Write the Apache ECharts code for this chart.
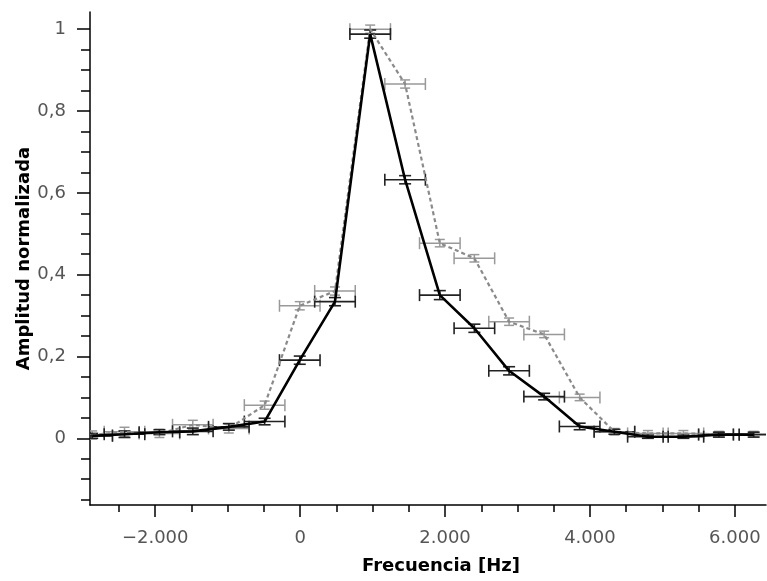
<!DOCTYPE html>
<html>
<head>
<meta charset="utf-8">
<script src="https://cdn.jsdelivr.net/npm/echarts@6/dist/echarts.min.js"></script>
<style>
html,body{margin:0;padding:0;background:#fff;}
#chart{width:767px;height:581px;}
</style>
</head>
<body>
<div id="chart"></div>
<script>
// ---- data ----
const freq = [-2870, -2424, -1942, -1481, -984, -490, -5, 481, 967, 1449, 1928, 2405, 2884, 3368, 3858, 4338, 4800, 5290, 5780, 6260];
const ampBlack = [0.006, 0.010, 0.015, 0.017, 0.028, 0.041, 0.191, 0.334, 0.988, 0.632, 0.350, 0.269, 0.165, 0.102, 0.029, 0.016, 0.004, 0.004, 0.009, 0.009];
const ampGray  = [0.008, 0.016, 0.012, 0.033, 0.024, 0.081, 0.324, 0.360, 1.000, 0.866, 0.477, 0.440, 0.285, 0.254, 0.100, 0.016, 0.012, 0.012, 0.010, 0.010];
const freqErr  = [280, 280, 280, 280, 280, 280, 280, 280, 280, 280, 280, 280, 280, 280, 280, 280, 280, 280, 280, 280];
const errBlack = [0.006, 0.008, 0.006, 0.008, 0.008, 0.008, 0.010, 0.010, 0.010, 0.010, 0.011, 0.010, 0.010, 0.008, 0.008, 0.006, 0.004, 0.004, 0.006, 0.006];
const errGray  = [0.010, 0.011, 0.010, 0.011, 0.011, 0.010, 0.010, 0.010, 0.010, 0.010, 0.009, 0.009, 0.009, 0.008, 0.008, 0.008, 0.007, 0.007, 0.007, 0.007];

const xMajorTicks = [-2000, 0, 2000, 4000, 6000];
const xMinorTicks = [-2500, -1500, -1000, -500, 500, 1000, 1500, 2500, 3000, 3500, 4500, 5000, 5500];
const yMajorTicks = [0, 0.2, 0.4, 0.6, 0.8, 1];
const yMinorTicks = [-0.15, -0.1, -0.05, 0.05, 0.1, 0.15, 0.25, 0.3, 0.35, 0.45, 0.5, 0.55, 0.65, 0.7, 0.75, 0.85, 0.9, 0.95];

const xMin = -2900, xMax = 6430, yMin = -0.163, yMax = 1.042;

// ---- helpers ----
function fmtX(v) {
  if (Math.abs(v) < 1e-9) return '0';
  const s = Math.abs(Math.round(v)).toString().replace(/\B(?=(\d{3})+(?!\d))/g, '.');
  return (v < 0 ? '\u2212' : '') + s;
}
function fmtY(v) {
  if (Math.abs(v) < 1e-9) return '0';
  if (Math.abs(v - 1) < 1e-9) return '1';
  return v.toFixed(1).replace('.', ',');
}
function pts(xs, ys) { return xs.map((x, i) => [x, ys[i]]); }
function errPts(xs, ys, ex, ey) { return xs.map((x, i) => [x, ys[i], ex[i], ey[i]]); }

function errRender(color, capH, capV, lw) {
  return function (params, api) {
    const x = api.value(0), y = api.value(1), ex = api.value(2), ey = api.value(3);
    const pL = api.coord([x - ex, y]), pR = api.coord([x + ex, y]);
    const pT = api.coord([x, y + ey]), pB = api.coord([x, y - ey]);
    const st = { stroke: color, lineWidth: lw, fill: null };
    const L = (x1, y1, x2, y2) => ({ type: 'line', shape: { x1, y1, x2, y2 }, style: st });
    return {
      type: 'group',
      children: [
        L(pL[0], pL[1], pR[0], pR[1]),
        L(pL[0], pL[1] - capH, pL[0], pL[1] + capH),
        L(pR[0], pR[1] - capH, pR[0], pR[1] + capH),
        L(pT[0], pT[1], pB[0], pB[1]),
        L(pT[0] - capV, pT[1], pT[0] + capV, pT[1]),
        L(pB[0] - capV, pB[1], pB[0] + capV, pB[1])
      ]
    };
  };
}

const labelFont = { fontFamily: 'DejaVu Sans', fontSize: 18, color: '#555' };
const nameFont = { fontFamily: 'DejaVu Sans', fontWeight: 'bold', fontSize: 18, color: '#000' };
const axisLine = { show: true, onZero: false, lineStyle: { color: '#000', width: 1.5 } };

const chart = echarts.init(document.getElementById('chart'), null, { renderer: 'canvas' });
chart.setOption({
  animation: false,
  backgroundColor: '#fff',
  grid: { left: 90, right: 1, top: 12, bottom: 76, containLabel: false, outerBoundsMode: 'none' },
  xAxis: [
    {
      type: 'value', min: xMin, max: xMax, position: 'bottom',
      name: 'Frecuencia [Hz]', nameLocation: 'middle', nameGap: 52, nameMoveOverlap: false,
      nameTextStyle: Object.assign({ padding: [0, 0, 0, 26] }, nameFont),
      axisLine: axisLine,
      axisTick: { show: true, length: 12, lineStyle: { color: '#000', width: 1.5 }, customValues: xMajorTicks },
      axisLabel: Object.assign({ margin: 24, customValues: xMajorTicks, formatter: fmtX }, labelFont),
      splitLine: { show: false }
    },
    {
      type: 'value', min: xMin, max: xMax, position: 'bottom',
      axisLine: { show: false, onZero: false },
      axisTick: { show: true, length: 7, lineStyle: { color: '#000', width: 1.5 }, customValues: xMinorTicks },
      axisLabel: { show: false },
      splitLine: { show: false }
    }
  ],
  yAxis: [
    {
      type: 'value', min: yMin, max: yMax, position: 'left',
      name: 'Amplitud normalizada', nameLocation: 'middle', nameGap: 57, nameMoveOverlap: false,
      nameTextStyle: nameFont,
      axisLine: axisLine,
      axisTick: { show: true, length: 13, lineStyle: { color: '#000', width: 1.5 }, customValues: yMajorTicks },
      axisLabel: Object.assign({ margin: 24, customValues: yMajorTicks, formatter: fmtY }, labelFont),
      splitLine: { show: false }
    },
    {
      type: 'value', min: yMin, max: yMax, position: 'left',
      axisLine: { show: false, onZero: false },
      axisTick: { show: true, length: 9, lineStyle: { color: '#000', width: 1.5 }, customValues: yMinorTicks },
      axisLabel: { show: false },
      splitLine: { show: false }
    }
  ],
  series: [
    {
      type: 'custom', name: 'errGray', xAxisIndex: 0, yAxisIndex: 0, clip: true,
      renderItem: errRender('#999', 6, 5, 1.5),
      data: errPts(freq, ampGray, freqErr, errGray), z: 2
    },
    {
      type: 'custom', name: 'errBlack', xAxisIndex: 0, yAxisIndex: 0, clip: true,
      renderItem: errRender('#222', 6, 6, 1.6),
      data: errPts(freq, ampBlack, freqErr, errBlack), z: 3
    },
    {
      type: 'line', name: 'gray', xAxisIndex: 0, yAxisIndex: 0, clip: true,
      showSymbol: false, symbol: 'none',
      lineStyle: { color: '#8a8a8a', width: 2.2, type: [4, 3] },
      data: pts(freq, ampGray), z: 4
    },
    {
      type: 'line', name: 'black', xAxisIndex: 0, yAxisIndex: 0, clip: true,
      showSymbol: false, symbol: 'none',
      lineStyle: { color: '#000', width: 2.6 },
      data: pts(freq, ampBlack), z: 5
    }
  ]
});
</script>
</body>
</html>
